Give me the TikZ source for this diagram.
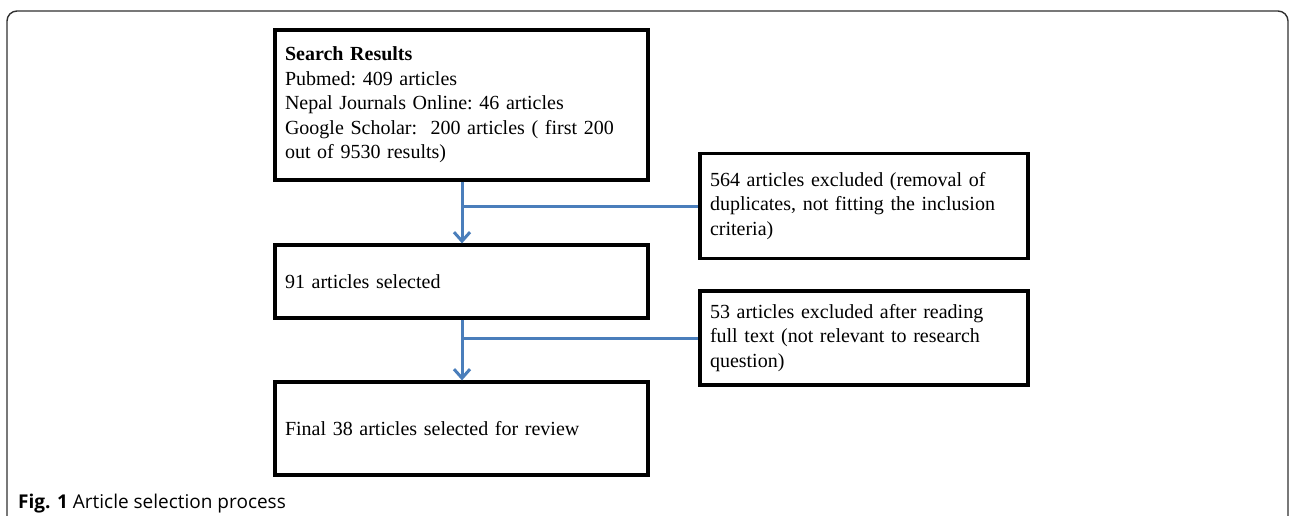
\documentclass[tikz,border=0pt]{standalone}
\usepackage{fontspec}
\setmainfont{Liberation Serif}
\newfontfamily\capfont{Open Sans}
\usetikzlibrary{arrows.meta,calc}
\definecolor{flowblue}{HTML}{4A7EBB}
\definecolor{framegray}{HTML}{303030}
\tikzset{
  boxnode/.style={draw=black, line width=3.2pt, rectangle, inner xsep=10pt, inner ysep=0pt,
    align=left, font=\frenchspacing\fontsize{20}{24.5}\selectfont, anchor=center},
  flowline/.style={draw=flowblue, line width=3pt},
  flowarrow/.style={flowline, -{Straight Barb[length=9pt,width=16pt,line width=3pt]}}
}
\begin{document}
\begin{tikzpicture}[x=1pt,y=-1pt]
\useasboundingbox (0,0) rectangle (1290,516);
% outer frame
\draw[framegray, line width=1.4pt] (7,520) -- (7,21) arc[start angle=180,end angle=270,radius=10] -- (1278,11) arc[start angle=270,end angle=360,radius=10] -- (1288,520);

\node[boxnode, minimum width=373pt, minimum height=150pt, text width=353pt] (s1) at (461.5,105)
  {\textbf{Search Results}\\Pubmed: 409 articles\\Nepal Journals Online: 46 articles\\Google Scholar:\ \ 200 articles ( first 200\\out of 9530 results)};
\node[boxnode, minimum width=373pt, minimum height=73pt, text width=353pt] (s2) at (461.5,281.5)
  {91 articles selected};
\node[boxnode, minimum width=373pt, minimum height=93pt, text width=353pt] (s3) at (461.5,428.5)
  {Final 38 articles selected for review};
\node[boxnode, minimum width=328pt, minimum height=105pt, text width=308pt] (e1) at (864,206)
  {564 articles excluded (removal of\\duplicates, not fitting the inclusion\\criteria)};
\node[boxnode, minimum width=328pt, minimum height=94pt, text width=308pt] (e2) at (864,338)
  {53 articles excluded after reading\\full text (not relevant to research\\question)};

\coordinate (j1) at (462,206);
\coordinate (j2) at (462,338);
\draw[flowarrow] (s1.south -| j1) -- (s2.north -| j1);
\draw[flowline] (j1) -- (e1.west |- j1);
\draw[flowarrow] (s2.south -| j2) -- (s3.north -| j2);
\draw[flowline] (j2) -- (e2.west |- j2);

\node[anchor=base west, inner sep=0pt, font=\capfont\fontsize{19}{22}\selectfont] (cap) at (18,508)
  {\textbf{Fig. 1} Article selection process};
\end{tikzpicture}
\end{document}
